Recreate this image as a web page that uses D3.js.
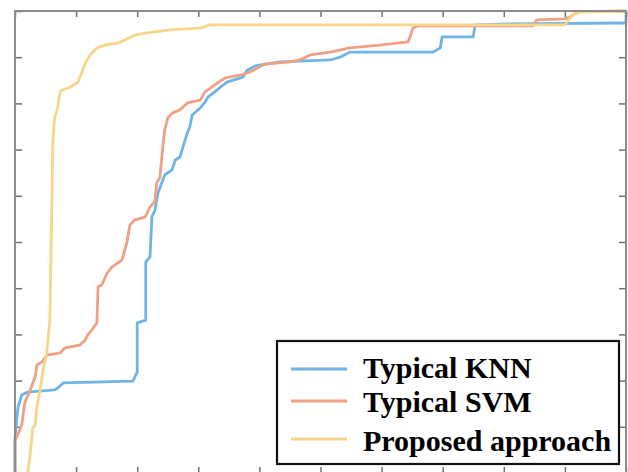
<!DOCTYPE html>
<html>
<head>
<meta charset="utf-8">
<script src="https://cdn.jsdelivr.net/npm/d3@7"></script>
<style>
  html, body { margin: 0; padding: 0; background: #fff; }
  svg { display: block; }
</style>
</head>
<body>
<svg id="chart" width="628" height="472"></svg>
<script>
// ---- data (false positive rate, true positive rate) ----
const seriesNames = ["Typical KNN", "Typical SVM", "Proposed approach"];

const knnFpr = [0, 0, 0.003, 0.005, 0.011, 0.020, 0.065, 0.070, 0.079, 0.193, 0.200, 0.200, 0.214, 0.214, 0.221, 0.224, 0.229, 0.234, 0.245, 0.257, 0.262, 0.270, 0.275, 0.282, 0.286, 0.290, 0.303, 0.311, 0.316, 0.327, 0.336, 0.347, 0.373, 0.380, 0.393, 0.434, 0.516, 0.532, 0.548, 0.684, 0.696, 0.699, 0.750, 0.753, 0.807, 0.997, 1.0, 1.0];
const knnTpr = [0, 0.076, 0.119, 0.143, 0.169, 0.175, 0.180, 0.184, 0.195, 0.199, 0.219, 0.325, 0.331, 0.457, 0.468, 0.554, 0.569, 0.606, 0.645, 0.656, 0.677, 0.684, 0.706, 0.736, 0.749, 0.775, 0.790, 0.803, 0.814, 0.825, 0.835, 0.846, 0.857, 0.872, 0.881, 0.890, 0.894, 0.900, 0.911, 0.911, 0.920, 0.944, 0.944, 0.970, 0.972, 0.974, 0.974, 1.0];

const svmFpr = [0, 0, 0.003, 0.011, 0.016, 0.025, 0.033, 0.036, 0.044, 0.052, 0.074, 0.082, 0.106, 0.115, 0.119, 0.126, 0.134, 0.136, 0.142, 0.151, 0.159, 0.175, 0.183, 0.188, 0.196, 0.213, 0.221, 0.229, 0.232, 0.237, 0.242, 0.245, 0.250, 0.257, 0.270, 0.282, 0.303, 0.311, 0.327, 0.344, 0.368, 0.385, 0.409, 0.450, 0.466, 0.483, 0.516, 0.548, 0.597, 0.643, 0.646, 0.651, 0.660, 0.848, 0.854, 0.900, 0.908, 0.921, 1.0];
const svmTpr = [0, 0.071, 0.078, 0.104, 0.152, 0.180, 0.208, 0.234, 0.240, 0.255, 0.260, 0.271, 0.277, 0.288, 0.299, 0.310, 0.325, 0.403, 0.407, 0.433, 0.446, 0.461, 0.498, 0.537, 0.548, 0.554, 0.576, 0.587, 0.628, 0.639, 0.706, 0.742, 0.768, 0.779, 0.786, 0.801, 0.807, 0.825, 0.840, 0.855, 0.861, 0.868, 0.885, 0.890, 0.894, 0.905, 0.911, 0.920, 0.926, 0.933, 0.942, 0.963, 0.968, 0.968, 0.981, 0.983, 0.987, 0.998, 1.0];

const propFpr = [0.021, 0.025, 0.029, 0.033, 0.036, 0.041, 0.046, 0.052, 0.057, 0.059, 0.062, 0.065, 0.069, 0.074, 0.077, 0.090, 0.103, 0.115, 0.123, 0.134, 0.147, 0.169, 0.180, 0.196, 0.213, 0.254, 0.303, 0.319, 0.900, 0.912, 0.925, 1.0];
const propTpr = [0, 0.043, 0.097, 0.104, 0.143, 0.180, 0.223, 0.260, 0.331, 0.483, 0.721, 0.771, 0.786, 0.825, 0.829, 0.835, 0.846, 0.887, 0.905, 0.920, 0.926, 0.931, 0.937, 0.948, 0.952, 0.959, 0.963, 0.970, 0.970, 0.991, 0.998, 1.0];

const xTicks = [0, 0.1, 0.2, 0.3, 0.4, 0.5, 0.6, 0.7, 0.8, 0.9, 1.0];
const yTicks = [0, 0.1, 0.2, 0.3, 0.4, 0.5, 0.6, 0.7, 0.8, 0.9, 1.0];

// ---- layout ----
const colors = ["#6eb4e4", "#efa085", "#f7d68b"];
const plotLeft = 15, plotRight = 626, plotTop = 11, plotBottom = 473;

const svg = d3.select("#chart");
const x = d3.scaleLinear().domain([0, 1]).range([plotLeft, plotRight]);
const y = d3.scaleLinear().domain([0, 1]).range([plotBottom, plotTop]);

const series = [
  { name: seriesNames[0], pts: knnFpr.map((v, i) => [v, knnTpr[i]]) },
  { name: seriesNames[1], pts: svmFpr.map((v, i) => [v, svmTpr[i]]) },
  { name: seriesNames[2], pts: propFpr.map((v, i) => [v, propTpr[i]]) }
];

const axisColor = "#8c8c8c";
function styleAxis(g) {
  g.select(".domain").remove();
  g.selectAll(".tick line").attr("stroke", "#707070").attr("stroke-width", 1.5);
  g.selectAll(".tick text").remove();
}
svg.append("g").attr("transform", `translate(0,${plotBottom})`)
  .call(d3.axisBottom(x).tickValues(xTicks).tickSizeInner(-6).tickSizeOuter(0).tickFormat(""))
  .call(styleAxis);
svg.append("g").attr("transform", `translate(0,${plotTop})`)
  .call(d3.axisTop(x).tickValues(xTicks).tickSizeInner(-6).tickSizeOuter(0).tickFormat(""))
  .call(styleAxis);
svg.append("g").attr("transform", `translate(${plotLeft},0)`)
  .call(d3.axisLeft(y).tickValues(yTicks).tickSizeInner(-7).tickSizeOuter(0).tickFormat(""))
  .call(styleAxis);
svg.append("g").attr("transform", `translate(${plotRight},0)`)
  .call(d3.axisRight(y).tickValues(yTicks).tickSizeInner(-7).tickSizeOuter(0).tickFormat(""))
  .call(styleAxis);

const line = d3.line().x(d => x(d[0])).y(d => y(d[1]));
series.forEach((s, i) => {
  svg.append("path")
    .datum(s.pts)
    .attr("d", line)
    .attr("fill", "none")
    .attr("stroke", colors[i])
    .attr("stroke-width", 2.8)
    .attr("stroke-linejoin", "round");
});

// axes box
svg.append("rect")
  .attr("x", plotLeft).attr("y", plotTop)
  .attr("width", plotRight - plotLeft).attr("height", plotBottom - plotTop)
  .attr("fill", "none").attr("stroke", axisColor).attr("stroke-width", 2);

// legend
const leg = svg.append("g");
leg.append("rect")
  .attr("x", 277).attr("y", 341).attr("width", 342).attr("height", 123)
  .attr("fill", "#fff").attr("stroke", "#111").attr("stroke-width", 2.2);
const rowsLine = [369, 401, 439];
const rowsText = [378, 412, 451];
series.forEach((s, i) => {
  leg.append("line")
    .attr("x1", 291).attr("x2", 347)
    .attr("y1", rowsLine[i]).attr("y2", rowsLine[i])
    .attr("stroke", colors[i]).attr("stroke-width", 2.8);
  leg.append("text")
    .attr("x", 363).attr("y", rowsText[i])
    .attr("font-family", "'Liberation Serif', 'Times New Roman', serif")
    .attr("font-weight", "bold")
    .attr("font-size", 30)
    .attr("fill", "#000")
    .text(s.name);
});
</script>
</body>
</html>
